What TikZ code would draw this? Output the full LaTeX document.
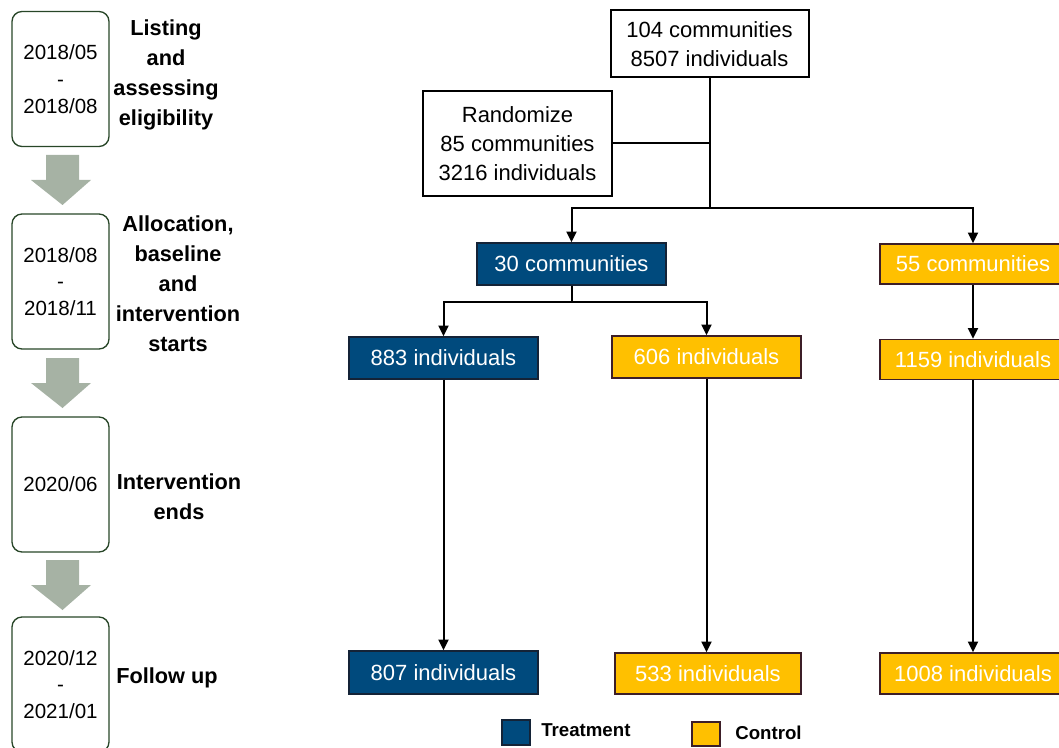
\documentclass[tikz,border=0pt]{standalone}
\usepackage{fontspec}
\setmainfont{Liberation Sans}
\usetikzlibrary{arrows.meta,calc}
\definecolor{tblue}{RGB}{0,74,125}
\definecolor{cgold}{RGB}{255,192,0}
\definecolor{goldedge}{RGB}{60,30,40}
\definecolor{blueedge}{RGB}{20,35,55}
\definecolor{dgreen}{RGB}{40,70,40}
\definecolor{garrow}{RGB}{166,178,164}
\tikzset{
  datebox/.style={draw=dgreen,line width=1pt,rounded corners=7.5pt,minimum width=72.75pt,minimum height=101.25pt,inner sep=0pt,align=center,font=\fontsize{15.4}{20}\selectfont},
  phase/.style={align=center,font=\fontsize{16.3}{22.5}\selectfont\bfseries},
  wbox/.style={draw=black,line width=1.5pt,fill=white,inner sep=0pt,align=center,font=\fontsize{16.5}{21.5}\selectfont},
  tbox/.style={draw=blueedge,line width=1.1pt,fill=tblue,text=white,inner sep=0pt,minimum width=141.75pt,font=\fontsize{16.5}{20}\selectfont},
  cbox/.style={draw=goldedge,line width=1.1pt,fill=cgold,text=white,inner sep=0pt,font=\fontsize{16.5}{20}\selectfont},
  conn/.style={line width=1.5pt,draw=black},
  arr/.style={conn,-{Triangle[length=8pt,width=7.5pt]}},
  legtext/.style={font=\fontsize{14}{16}\selectfont\bfseries,anchor=west,inner sep=0pt},
  blockarrow/.style={fill=garrow,draw=none}
}
\begin{document}
\begin{tikzpicture}[x=0.75pt,y=-0.75pt]
\useasboundingbox (0,0) rectangle (1059,748);
\clip (0,0) rectangle (1059,748);
% left timeline
\node[datebox] (d1) at (60.5,79) {2018/05\\-\\2018/08};
\node[datebox] (d2) at (60.5,281.5) {2018/08\\-\\2018/11};
\node[datebox] (d3) at (60.5,484.5) {2020/06};
\node[datebox] (d4) at (60.5,684.5) {2020/12\\-\\2021/01};
\node[phase] (p1) at (166,75) {Listing\\and\\assessing\\eligibility};
\node[phase] (p2) at (178,284) {Allocation,\\baseline\\and\\intervention\\starts};
\node[phase] (p3) at (179,497) {Intervention\\ends};
\node[phase] (p4) at (167,678) {Follow up};
\foreach \t in {155,358,560}{
  \fill[blockarrow] (46,\t) -- (79,\t) -- (79,\t+25) -- (91,\t+25) -- (62.5,\t+50) -- (31,\t+25) -- (46,\t+25) -- cycle;
}
% right flow
\node[wbox,minimum width=148.5pt,minimum height=50.25pt] (top) at (709.5,44) {104 communities\\8507 individuals};
\node[wbox,minimum width=141.75pt,minimum height=78.75pt,font=\fontsize{16.5}{22}\selectfont] (rand) at (517.5,143.5) {Randomize\\85 communities\\3216 individuals};
\node[tbox,minimum height=31.5pt] (c30) at (571.5,264) {30 communities};
\node[cbox,minimum width=139.5pt,minimum height=30pt] (c55) at (973,264) {55 communities};
\node[tbox,minimum height=31.5pt] (i883) at (443.5,358) {883 individuals};
\node[cbox,minimum width=141.75pt,minimum height=31.5pt] (i606) at (706.5,357) {606 individuals};
\node[cbox,minimum width=139.5pt,minimum height=30pt] (i1159) at (973,359.5) {1159 individuals};
\node[tbox,minimum height=32.25pt] (i807) at (443.5,672.5) {807 individuals};
\node[cbox,minimum width=139.5pt,minimum height=30.75pt] (i533) at (708,673.5) {533 individuals};
\node[cbox,minimum width=139.5pt,minimum height=30.75pt] (i1008) at (973,673.5) {1008 individuals};
\coordinate (j1) at (709.5,208);
\coordinate (j2) at (571.5,302);
\draw[conn] (top.south) -- (j1);
\draw[conn] (rand.east) -- (rand.east -| top.south);
\draw[arr] (j1) -| (c30.north);
\draw[arr] (j1) -| (c55.north);
\draw[conn] (c30.south) -- (j2);
\draw[arr] (j2) -| (i883.north);
\draw[arr] (j2) -| (i606.north);
\draw[arr] (c55.south) -- (i1159.north);
\draw[arr] (i883.south) -- (i807.north);
\draw[arr] (i606.south) -- ($(i533.north)+(-1.5,0)$);
\draw[arr] (i1159.south) -- (i1008.north);
% legend
\node[draw=blueedge,line width=1pt,fill=tblue,minimum width=21pt,minimum height=18.75pt,inner sep=0pt] (lt) at (516,732.5) {};
\node[legtext] (ltt) at (541,730) {Treatment};
\node[draw=goldedge,line width=1pt,fill=cgold,minimum width=21pt,minimum height=18pt,inner sep=0pt] (lc) at (706,734) {};
\node[legtext] (lct) at (735,733) {Control};
\end{tikzpicture}
\end{document}
